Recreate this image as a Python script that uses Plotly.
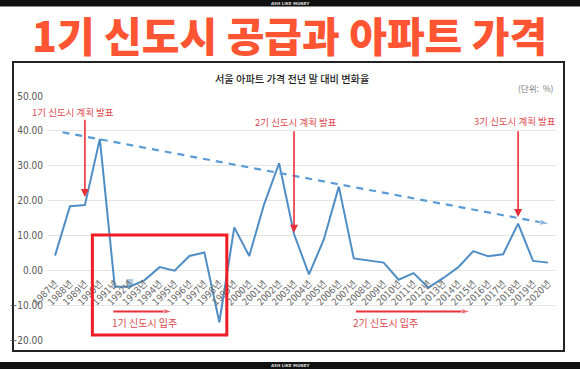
import plotly.graph_objects as go

# ---------------- data ----------------
years = list(range(1987, 2021))
tick_labels = [f"{y}년" for y in years]
change_rate = [4.2, 18.4, 18.7, 37.7, -4.7, -4.7, -2.8, 0.9, -0.1, 4.1, 5.1, -14.9,
               12.3, 4.1, 19.0, 30.7, 10.4, -1.2, 8.9, 24.0, 3.4, 2.9, 2.2, -2.7,
               -0.8, -5.0, -2.2, 0.9, 5.5, 4.0, 4.6, 13.4, 2.7, 2.2]
trend_years = [1987.5, 2020.1]
trend_values = [39.6, 13.3]
y_ticks = [50, 40, 30, 20, 10, 0, -10, -20]

plan_labels = ["1기 신도시 계획 발표", "2기 신도시 계획 발표", "3기 신도시 계획 발표"]
plan_years = [1989, 2003, 2018]
move_labels = ["1기 신도시 입주", "2기 신도시 입주"]
move_start = [1990.9, 2007.15]
move_end = [1994.85, 2014.8]

# ---------------- layout geometry ----------------
W, H = 580, 369
ML, MR, MT, MB = 48, 25, 96, 29
PW, PH = W - ML - MR, H - MT - MB


def px(x):
    return (x - ML) / PW


def py(y):
    return (H - MB - y) / PH


LINE = "#4F8EC4"
RED = "#E8303A"
TXT_RED = "#DD4A4F"
KR = "Noto Sans CJK KR"
NARROW = "Liberation Sans Narrow, DejaVu Sans Condensed, Roboto Condensed, Noto Sans CJK KR, sans-serif"

fig = go.Figure()

fig.add_trace(go.Scatter(
    x=years, y=change_rate, mode="lines",
    line=dict(color=LINE, width=2), hoverinfo="skip", showlegend=False))

# small highlight marker seen at 1992
fig.add_trace(go.Scatter(
    x=[years[5]], y=[change_rate[5] + 1.2], mode="markers",
    marker=dict(symbol="square", size=7, color="rgba(79,142,196,0.45)"),
    showlegend=False, hoverinfo="skip"))

# dashed trend with arrow head
fig.add_trace(go.Scatter(
    x=trend_years, y=trend_values, mode="lines+markers",
    line=dict(color="#5B9BD5", width=2.2, dash="7px,6px"),
    marker=dict(symbol="arrow", size=[0, 10], angleref="previous", color="#5B9BD5"),
    showlegend=False, hoverinfo="skip"))

# move-in arrows
for s, e in zip(move_start, move_end):
    fig.add_trace(go.Scatter(
        x=[s, e], y=[-11.8, -11.8], mode="lines+markers",
        line=dict(color=RED, width=2),
        marker=dict(symbol=["circle", "arrow"], size=[6, 9], angleref="previous", color=RED),
        showlegend=False, hoverinfo="skip"))

annotations = []
# plan labels + vertical arrows
plan_text_x = [1988.2, 2003.1, 2017.8]
plan_text_y = [45.4, 42.5, 42.8]
plan_tail = [43.6, 40.3, 40.3]
plan_tip = [21.0, 10.8, 15.3]
for lab, yr, tx, ty, tail, tip in zip(plan_labels, plan_years, plan_text_x, plan_text_y, plan_tail, plan_tip):
    annotations.append(dict(x=tx, y=ty, xref="x", yref="y", text=lab, showarrow=False,
                            xanchor="center", yanchor="middle",
                            font=dict(family=KR, size=9.5, color=TXT_RED)))
    annotations.append(dict(x=yr, y=tip, xref="x", yref="y", ax=yr, ay=tail,
                            axref="x", ayref="y", text="", showarrow=True,
                            arrowhead=2, arrowsize=1, arrowwidth=1.6, arrowcolor=RED))

move_text_x = [1993.0, 2009.1]
for lab, tx in zip(move_labels, move_text_x):
    annotations.append(dict(x=tx, y=-15.0, xref="x", yref="y", text=lab, showarrow=False,
                            xanchor="center", yanchor="middle",
                            font=dict(family=KR, size=10, color=TXT_RED)))

# big title
annotations.append(dict(x=px(289), y=py(34), xref="paper", yref="paper",
                        xanchor="center", yanchor="middle",
                        text="1기 신도시 공급과 아파트 가격", showarrow=False,
                        font=dict(family=KR, size=41, color="#FF5533", weight=900)))
# chart subtitle
annotations.append(dict(x=px(292), y=py(78), xref="paper", yref="paper",
                        xanchor="center", yanchor="middle",
                        text="서울 아파트 가격 전년 말 대비 변화율", showarrow=False,
                        font=dict(family=KR, size=10.2, color="#1E1E1E", weight=500)))
annotations.append(dict(x=px(556), y=py(88), xref="paper", yref="paper",
                        xanchor="right", yanchor="middle",
                        text="(단위:  %)", showarrow=False,
                        font=dict(family=KR, size=8.5, color="#777777")))
# tiny watermark text in black bars
for yy in (3.0, 365.5):
    annotations.append(dict(x=px(290), y=py(yy), xref="paper", yref="paper",
                            xanchor="center", yanchor="middle",
                            text="<b>ASH LIKE MONEY</b>", showarrow=False,
                            font=dict(family="DejaVu Sans", size=4, color="#DDDDDD")))

shapes = [
    # panel border
    dict(type="rect", xref="paper", yref="paper", x0=px(13), x1=px(564), y0=py(351), y1=py(62),
         line=dict(color="#222222", width=2), layer="below"),
    # top / bottom black bars
    dict(type="rect", xref="paper", yref="paper", x0=px(-5), x1=px(590), y0=py(6.5), y1=py(-5),
         line=dict(width=0), fillcolor="#111111"),
    dict(type="rect", xref="paper", yref="paper", x0=px(-5), x1=px(590), y0=py(375), y1=py(362),
         line=dict(width=0), fillcolor="#111111"),
    # red box around first new-town supply period
    dict(type="rect", xref="x", yref="y", x0=1989.5, x1=1998.5, y0=-18.6, y1=10.1,
         line=dict(color="#EE1C25", width=3)),
]

fig.update_layout(
    width=W, height=H,
    margin=dict(l=ML, r=MR, t=MT, b=MB, autoexpand=False),
    paper_bgcolor="white", plot_bgcolor="white",
    showlegend=False,
    annotations=annotations,
    shapes=shapes,
    xaxis=dict(
        range=[1986.53, 2020.47], tickvals=years, ticktext=tick_labels,
        tickangle=-45, showgrid=False, zeroline=False, showline=False,
        anchor="free", position=20 / 70, ticks="", automargin=False,
        ticklabelstandoff=5,
        tickfont=dict(family=NARROW, size=9.5, color="#666666"),
        fixedrange=True),
    yaxis=dict(
        range=[-20, 50], tickvals=y_ticks, tickformat=".2f",
        showgrid=True, gridcolor="#E4E4E4", gridwidth=1, zeroline=False,
        showline=False, ticks="", ticklabelstandoff=4, automargin=False,
        tickfont=dict(family=NARROW, size=10, color="#555555"),
        fixedrange=True),
)

fig.write_html(
    "out.html",
    config={"displayModeBar": False, "staticPlot": True},
    post_script="document.body.style.margin='0';document.body.style.padding='0';"
                "document.documentElement.style.overflow='hidden';",
)
